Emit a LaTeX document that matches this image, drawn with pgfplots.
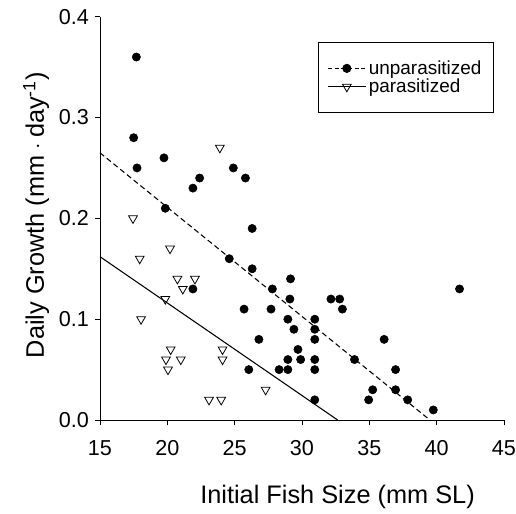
\documentclass[border=0pt]{standalone}
\usepackage{fontspec}
\setmainfont{Liberation Sans}
\usepackage{pgfplots}
\pgfplotsset{compat=1.18}

\begin{document}
\begin{tikzpicture}
\begin{axis}[
    scale only axis,
    width=303pt, height=302.5pt,
    xmin=15, xmax=45, ymin=0, ymax=0.4,
    axis x line*=bottom, axis y line*=left,
    axis line style={black, line width=0.6pt},
    xtick={15,20,...,45},
    ytick={0,0.1,...,0.4},
    tick align=outside, major tick length=3.75pt,
    tick style={black, line width=0.6pt},
    yticklabel style={/pgf/number format/fixed, /pgf/number format/fixed zerofill,
        /pgf/number format/precision=1, xshift=-1pt},
    /pgf/number format/assume math mode=true,
    ticklabel style={font=\fontsize{16.2}{18}\selectfont},
    xticklabel style={inner xsep=0pt, yshift=-8pt},
    xlabel={Initial Fish Size (mm SL)},
    ylabel={Daily Growth (mm\hspace{0.22em}$\cdot$\hspace{0.22em}day\textsuperscript{-1})},
    label style={font=\fontsize{19}{22}\selectfont},
    xlabel style={at={(axis description cs:0.588,-0.191)}, anchor=center},
    ylabel style={at={(axis description cs:-0.158,0.508)}, anchor=center},
    clip=false,
    legend cell align=left,
    legend style={at={(axis description cs:0.975,0.937)}, anchor=north east,
        draw=black, line width=0.6pt, font=\fontsize{14.2}{16}\selectfont,
        inner xsep=7pt, inner ysep=13pt, row sep=1pt,
        nodes={inner xsep=2pt, inner ysep=0.5pt}},
    legend image code/.code={
        \draw[mark repeat=2, mark phase=2] plot coordinates {(0cm,0cm) (0.5cm,0cm) (1.0cm,0cm)};
    },
]

% unparasitized
\addplot[only marks, mark=*, mark size=3.1pt, black, forget plot] coordinates {
    (17.7,0.36) (17.5,0.28) (17.75,0.25) (19.75,0.26) (19.85,0.21)
    (21.9,0.23) (22.4,0.24) (24.9,0.25) (25.8,0.24) (24.6,0.16)
    (26.3,0.19) (26.3,0.15) (21.9,0.13) (27.8,0.13) (29.15,0.14)
    (29.1,0.12) (25.7,0.11) (27.7,0.11) (28.95,0.10) (30.95,0.10)
    (29.4,0.09) (30.95,0.09) (26.8,0.08) (30.95,0.08) (29.7,0.07)
    (28.95,0.06) (29.9,0.06) (30.95,0.06) (26.05,0.05) (28.3,0.05)
    (28.95,0.05) (30.95,0.05) (30.95,0.02) (32.15,0.12) (32.8,0.12)
    (33.0,0.11) (33.9,0.06) (36.1,0.08) (36.95,0.05) (35.25,0.03)
    (34.95,0.02) (36.95,0.03) (37.85,0.02) (39.75,0.01) (41.7,0.13)
};

% parasitized
\addplot[only marks, mark=triangle, mark size=3.8pt, black,
    mark options={rotate=180, fill=white, line width=0.6pt}, forget plot] coordinates {
    (23.9,0.27) (17.45,0.20) (20.2,0.17) (17.95,0.16) (20.75,0.14)
    (22.05,0.14) (21.15,0.13) (19.85,0.12) (18.05,0.10) (20.25,0.07)
    (19.9,0.06) (21.0,0.06) (20.05,0.05) (24.1,0.07) (24.1,0.06)
    (27.3,0.03) (23.1,0.02) (24.0,0.02)
};

% regression lines
\addplot[black, line width=0.8pt, dash pattern=on 4pt off 2.5pt, forget plot] coordinates {(15,0.265) (39.5,0)};
\addplot[black, line width=0.8pt, forget plot] coordinates {(15,0.162) (32.65,0)};

\addlegendimage{black, line width=0.6pt, dash pattern=on 3pt off 2pt, mark=*, mark size=3.1pt, mark options={solid}}
\addlegendentry{unparasitized}
\addlegendimage{black, line width=0.6pt, mark=triangle, mark size=3.8pt, mark options={rotate=180, fill=white, solid}}
\addlegendentry{parasitized}

% page frame matching the reference canvas
\path (rel axis cs:-0.2475,-0.223) rectangle (rel axis cs:1.0297,1.0414);
\end{axis}
\end{tikzpicture}
\end{document}
